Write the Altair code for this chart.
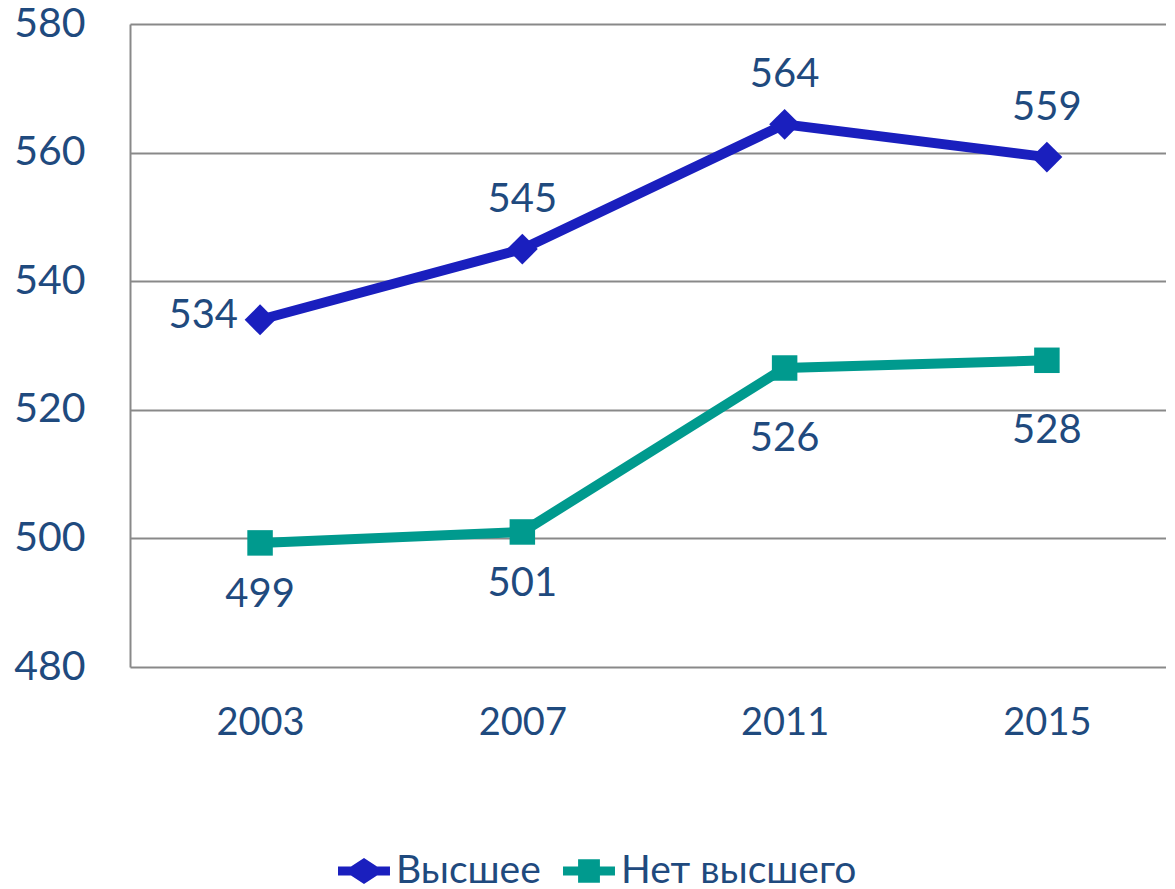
import altair as alt
import pandas as pd

years = ["2003", "2007", "2011", "2015"]
series_names = ["Высшее", "Нет высшего"]
higher = [534.0, 545.0, 564.4, 559.3]
no_higher = [499.3, 501.0, 526.5, 527.7]
higher_labels = ["534", "545", "564", "559"]
no_higher_labels = ["499", "501", "526", "528"]
y_ticks = [480, 500, 520, 540, 560, 580]

TEXT = "#1F4A7E"
GRID = "#898989"
BLUE = "#1A1FBE"
TEAL = "#009A8E"
FONT = "Lato"

rows = []
for i, yr in enumerate(years):
    rows.append({"year": yr, "series": series_names[0], "value": higher[i], "label": higher_labels[i], "idx": i})
    rows.append({"year": yr, "series": series_names[1], "value": no_higher[i], "label": no_higher_labels[i], "idx": i})
df = pd.DataFrame(rows)

D_PATH = "M-1,-0.17L-0.5,-0.17L0,-0.5L0.5,-0.17L1,-0.17L1,0.17L0.5,0.17L0,0.5L-0.5,0.17L-1,0.17Z"
S_PATH = "M-1,-0.17L-0.42,-0.17L-0.42,-0.45L0.42,-0.45L0.42,-0.17L1,-0.17L1,0.17L0.42,0.17L0.42,0.45L-0.42,0.45L-0.42,0.17L-1,0.17Z"

x_enc = alt.X(
    "year:N", sort=years,
    scale=alt.Scale(type="point", padding=0.475, align=0.522),
    axis=alt.Axis(labelAngle=0, domain=False, ticks=False, grid=False,
                  labelFont=FONT, labelFontSize=38, labelColor=TEXT,
                  labelPadding=37, title=None),
)
y_enc = alt.Y(
    "value:Q",
    scale=alt.Scale(domain=[480, 580], zero=False, nice=False),
    axis=alt.Axis(values=y_ticks, ticks=False, domainColor=GRID, domainWidth=2,
                  gridColor=GRID, gridWidth=2, labelFont=FONT, labelFontSize=41,
                  labelColor=TEXT, labelPadding=45, title=None),
)

legend = alt.Legend(
    orient="none", legendX=208, legendY=821, direction="horizontal", title=None,
    labelFont=FONT, labelFontSize=39, labelColor=TEXT, symbolSize=2700,
    columnPadding=22, labelOffset=6, symbolStrokeWidth=0, symbolOpacity=1,
    labelLimit=600,
)

base = alt.Chart(df).encode(x=x_enc, y=y_enc)

# invisible layer carrying the legend
legend_layer = base.mark_point(filled=True, opacity=0).encode(
    color=alt.Color("series:N", scale=alt.Scale(domain=series_names, range=[BLUE, TEAL]), legend=legend),
    shape=alt.Shape("series:N", scale=alt.Scale(domain=series_names, range=[D_PATH, S_PATH]), legend=legend),
)

f_hi = "datum.series === 'Высшее'"
f_no = "datum.series === 'Нет высшего'"

line_hi = base.transform_filter(f_hi).mark_line(strokeWidth=10, color=BLUE)
line_no = base.transform_filter(f_no).mark_line(strokeWidth=10, color=TEAL)
pt_hi = base.transform_filter(f_hi).mark_point(filled=True, opacity=1, shape="diamond", size=950, color=BLUE)
pt_no = base.transform_filter(f_no).mark_point(filled=True, opacity=1, shape="square", size=650, color=TEAL)

txt = dict(font=FONT, fontSize=40, color=TEXT)
t1 = base.transform_filter(f_hi + " && datum.idx == 0").mark_text(
    align="right", baseline="middle", dx=-22, dy=-4, **txt).encode(text="label:N")
t2 = base.transform_filter(f_hi + " && datum.idx > 0").mark_text(
    align="center", baseline="middle", dy=-49, **txt).encode(text="label:N")
t3 = base.transform_filter(f_no + " && datum.idx < 2").mark_text(
    align="center", baseline="middle", dy=52, **txt).encode(text="label:N")
t4 = base.transform_filter(f_no + " && datum.idx >= 2").mark_text(
    align="center", baseline="middle", dy=71, **txt).encode(text="label:N")

chart = alt.layer(legend_layer, line_hi, line_no, pt_hi, pt_no, t1, t2, t3, t4).properties(
    width=1036, height=643,
    padding={"left": 122, "top": 16, "right": 0, "bottom": 222},
    autosize=alt.AutoSizeParams(type="none"),
).configure_view(stroke=None)

chart.save("out.html", embed_options={"renderer": "svg", "actions": False})
